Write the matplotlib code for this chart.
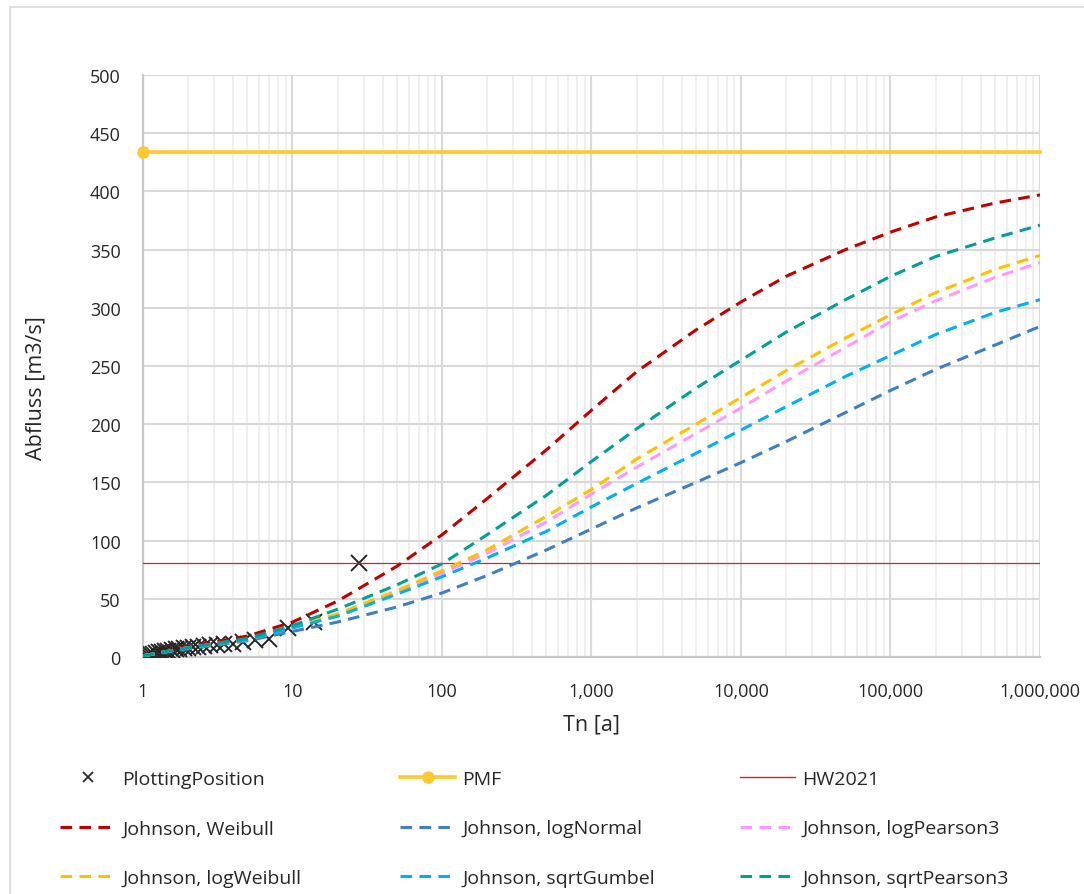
"""Hochwasserstatistik: Johnson-Anpassungen gegen Plotting Positions, PMF und HW2021."""
from __future__ import annotations

import matplotlib
matplotlib.use("Agg")  # no display
import matplotlib.pyplot as plt  # noqa: E402
from matplotlib.lines import Line2D  # noqa: E402
from matplotlib.patches import Rectangle  # noqa: E402
from matplotlib.ticker import (FixedLocator, FuncFormatter, LogLocator,  # noqa: E402
                               NullFormatter)

plt.rcParams["font.family"] = ["Open Sans", "DejaVu Sans"]

# ── data ─────────────────────────────────────────────────────────────
# Plotting positions (Jährlichkeit Tn, Abfluss Q)
tn_obs = [28.0, 14.0, 9.33, 7.0, 5.6, 4.67, 4.0, 3.5, 3.11, 2.8, 2.55, 2.33, 2.15,
          2.0, 1.87, 1.75, 1.65, 1.56, 1.47, 1.4, 1.33, 1.27, 1.22, 1.17, 1.12,
          1.08, 1.04]
q_obs = [80.5, 30.0, 24.5, 15.5, 15.0, 12.5, 11.5, 11.0, 10.5, 10.0, 9.6, 9.0, 8.6,
         8.0, 7.6, 7.0, 6.6, 6.0, 5.5, 5.0, 4.6, 4.0, 3.4, 3.0, 2.4, 1.6, 0.6]

q_pmf = 434.0
q_hw2021 = 81.0

tn_fit = [1, 2, 5, 10, 20, 50, 100, 200, 500, 1e3, 2e3, 5e3, 1e4, 2e4, 5e4,
          1e5, 2e5, 5e5, 1e6]
q_weibull = [1, 9, 18, 30, 48, 78, 105, 136, 178, 212, 245, 281, 305, 327, 350,
             365, 378, 390, 397]
q_lognormal = [1, 7, 14, 22, 30, 43, 55, 70, 92, 110, 128, 150, 167, 185, 210,
               229, 247, 268, 284]
q_logpearson3 = [1, 8, 15, 25, 36, 55, 72, 89, 116, 140, 163, 192, 214, 237, 266,
                 288, 306, 326, 339]
q_logweibull = [1, 8, 15, 26, 37, 57, 74, 92, 121, 144, 170, 200, 223, 246, 274,
                294, 313, 333, 345]
q_sqrtgumbel = [1, 8, 15, 25, 35, 54, 69, 85, 108, 129, 149, 175, 195, 215, 241,
                259, 277, 296, 307]
q_sqrtpearson3 = [1, 8, 16, 27, 41, 62, 80, 105, 139, 168, 196, 231, 255, 279, 307,
                  327, 344, 360, 371]

fit_series = [
    ("Johnson, Weibull", q_weibull, "#C00000"),
    ("Johnson, logNormal", q_lognormal, "#3F7FC3"),
    ("Johnson, logPearson3", q_logpearson3, "#FF99FF"),
    ("Johnson, logWeibull", q_logweibull, "#FFC000"),
    ("Johnson, sqrtGumbel", q_sqrtgumbel, "#00B0F0"),
    ("Johnson, sqrtPearson3", q_sqrtpearson3, "#00A094"),
]

PMF_COLOR = "#FFC830"
HW_COLOR = "#C82828"
TEXT_COLOR = "#262626"
DASHES = (0, (3.8, 2.4))
W, H = 1084, 895

fig = plt.figure(figsize=(W / 100, H / 100), dpi=100)
ax = fig.add_axes([143 / W, 1 - 658 / H, (1040 - 143) / W, (658 - 76) / H])

# ── series ───────────────────────────────────────────────────────────
ax.plot(tn_obs, q_obs, linestyle="none", marker="x", markersize=12,
        markeredgewidth=1.4, color=TEXT_COLOR, zorder=3)
ax.plot([1, 1e6], [q_pmf, q_pmf], color=PMF_COLOR, linewidth=2.6,
        marker="o", markersize=8, markevery=[0], zorder=3, clip_on=False)
ax.axhline(q_hw2021, color=HW_COLOR, linewidth=0.9, zorder=3)
for label, values, color in fit_series:
    ax.plot(tn_fit, values, color=color, linewidth=2.2, linestyle=DASHES,
            dash_capstyle="butt", zorder=3)

# ── axes ─────────────────────────────────────────────────────────────
ax.set_xscale("log")
ax.set_xlim(1, 1e6)
ax.set_ylim(0, 500)
ax.set_yticks(range(0, 501, 50))
ax.xaxis.set_major_locator(FixedLocator([1, 10, 100, 1e3, 1e4, 1e5, 1e6]))
ax.xaxis.set_minor_locator(LogLocator(base=10, subs=range(2, 10), numticks=100))
ax.xaxis.set_major_formatter(FuncFormatter(lambda v, _: f"{v:,.0f}"))
ax.xaxis.set_minor_formatter(NullFormatter())

ax.grid(which="major", color="#D9D9D9", linewidth=1.5, zorder=0)
ax.grid(which="minor", axis="x", color="#EFEFEF", linewidth=1.4, zorder=0)
ax.set_axisbelow(True)
for side in ("top", "right"):
    ax.spines[side].set_visible(False)
for side in ("left", "bottom"):
    ax.spines[side].set_color("#C8C8C8")
    ax.spines[side].set_linewidth(1.6)

ax.tick_params(which="both", length=0, labelsize=13, colors=TEXT_COLOR)
ax.tick_params(axis="x", pad=18)
ax.tick_params(axis="y", pad=16)

ax.set_xlabel("Tn [a]", fontsize=15.5, color=TEXT_COLOR)
ax.xaxis.set_label_coords(0.5, -67 / 582, transform=ax.transAxes)
ax.set_ylabel("Abfluss [m3/s]", fontsize=15.5, color=TEXT_COLOR)
ax.yaxis.set_label_coords(-(143 - 36) / 897, (658 - 388) / 582)
ax.xaxis.label.set_va("center")
ax.yaxis.label.set_va("center")


# ── legend: three columns, placed by hand ───────────────────────────
def _dash(color: str) -> Line2D:
    return Line2D([], [], color=color, linewidth=2.2, linestyle=DASHES)


handles = {
    "PlottingPosition": Line2D([], [], linestyle="none", marker="x", markersize=7,
                               markeredgewidth=1.3, color=TEXT_COLOR),
    "PMF": Line2D([], [], color=PMF_COLOR, linewidth=2.6, marker="o", markersize=8),
    "HW2021": Line2D([], [], color=HW_COLOR, linewidth=1.0),
}
for label, _values, color in fit_series:
    handles[label] = _dash(color)

columns = [
    (60, ["PlottingPosition", "Johnson, Weibull", "Johnson, logWeibull"]),
    (400, ["PMF", "Johnson, logNormal", "Johnson, sqrtGumbel"]),
    (740, ["HW2021", "Johnson, logPearson3", "Johnson, sqrtPearson3"]),
]
for x_px, labels in columns:
    fig.legend(
        [handles[lb] for lb in labels], labels,
        loc="upper left", bbox_to_anchor=(x_px / W, 1 - 771 / H),
        frameon=False, fontsize=14, labelcolor=TEXT_COLOR,
        handlelength=2.83, handletextpad=0.36, labelspacing=1.62,
        borderpad=0, borderaxespad=0,
    )

# light frame around the chart area
fig.add_artist(Rectangle((9.5 / W, -0.1), 1.2, 1.1 - 7.5 / H,
                         transform=fig.transFigure, fill=False,
                         edgecolor="#D9D9D9", linewidth=1.2))

fig.savefig("out.png", dpi=100, facecolor="white")
plt.close(fig)
